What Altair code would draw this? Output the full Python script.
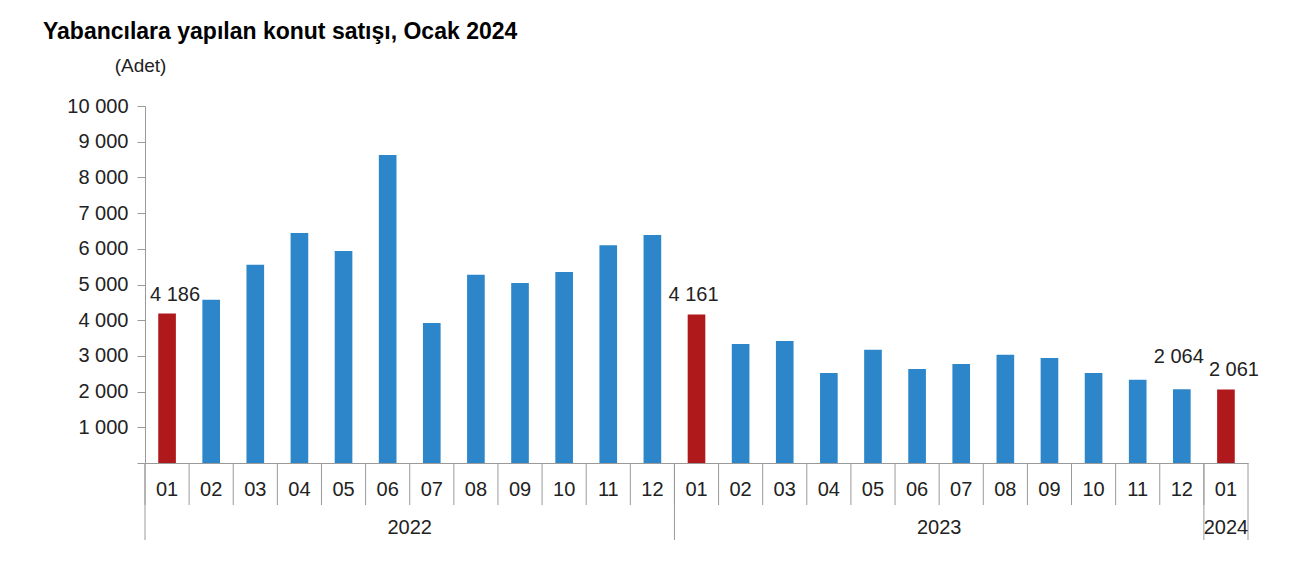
import altair as alt
import pandas as pd

# ---- data ----
years = ["2022"] * 12 + ["2023"] * 12 + ["2024"]
months = ["01", "02", "03", "04", "05", "06", "07", "08", "09", "10", "11", "12"] * 2 + ["01"]
values = [4186, 4570, 5550, 6440, 5940, 8630, 3920, 5270, 5040, 5350, 6100, 6390,
          4161, 3330, 3420, 2520, 3170, 2630, 2770, 3030, 2940, 2520, 2330, 2064,
          2061]
labeled_right = ["2022-01", "2024-01"]
labeled_left = ["2023-01"]
raised_keys = ["2023-12"]
y_ticks = [0, 1000, 2000, 3000, 4000, 5000, 6000, 7000, 8000, 9000, 10000]

TITLE = "Yabancılara yapılan konut satışı, Ocak 2024"
UNIT = "(Adet)"

BLUE = "#2c86c9"
RED = "#b0191c"
GRAY = "#9a9a9a"
TXT = "#222222"
FONT = "Liberation Sans"
FS = 20

df = pd.DataFrame({"year": years, "month": months, "value": values})
df["key"] = df["year"] + "-" + df["month"]
df["label"] = df["value"].map(lambda v: f"{v:,}".replace(",", " "))
keys = list(df["key"])

W, H = 1103, 357

xscale = alt.Scale(domain=keys, paddingInner=0, paddingOuter=0)
x_axis = alt.Axis(title=None, labelExpr="slice(datum.value, 5)", ticks=False,
                  domain=True, domainColor=GRAY, labelPadding=16, labelAngle=0,
                  labelFontSize=FS, labelColor=TXT, labelFont=FONT)
y_axis = alt.Axis(values=y_ticks,
                  labelExpr="datum.value == 0 ? '' : replace(format(datum.value, ','), ',', ' ')",
                  grid=False, tickSize=8, tickColor=GRAY, domainColor=GRAY,
                  labelPadding=9, labelFontSize=FS, labelColor=TXT, labelFont=FONT,
                  title=UNIT, titleAngle=0, titleX=-5, titleY=-41, titleAlign="center",
                  titleBaseline="middle", titleFontWeight="normal", titleFontSize=19,
                  titleColor=TXT, titleFont=FONT)

def X(**kw):
    return alt.X("key:N", scale=xscale, sort=keys, axis=x_axis, **kw)

bars = alt.Chart(df).mark_bar(width=alt.RelativeBandSize(0.4)).encode(
    x=X(),
    y=alt.Y("value:Q", scale=alt.Scale(domain=[0, 10000], nice=False), axis=y_axis),
    color=alt.condition("datum.month == '01'", alt.value(RED), alt.value(BLUE)),
)

def label_layer(sel, dx, dy):
    return alt.Chart(df[df["key"].isin(sel)]).mark_text(
        baseline="bottom", dx=dx, dy=dy, fontSize=FS, color=TXT, font=FONT).encode(
        x=X(), y=alt.Y("value:Q", axis=y_axis), text="label:N")

labels_r = label_layer(labeled_right, 8, -9)
labels_l = label_layer(labeled_left, -3, -9)
labels_up = label_layer(raised_keys, -3, -22)

# separators under the x axis
sep_short = alt.Chart(df).mark_rule(color=GRAY, strokeWidth=1).encode(
    x=X(bandPosition=0), y=alt.value(H), y2=alt.value(H + 42))
first_df = df[df["month"] == "01"]
sep_long = alt.Chart(first_df).mark_rule(color=GRAY, strokeWidth=1).encode(
    x=X(bandPosition=0), y=alt.value(H), y2=alt.value(H + 77))
last_df = df.tail(1)
sep_end = alt.Chart(last_df).mark_rule(color=GRAY, strokeWidth=1).encode(
    x=X(bandPosition=1), y=alt.value(H), y2=alt.value(H + 77))

# year labels centred under their groups
rows_even, rows_odd = [], []
for yr in dict.fromkeys(years):
    ks = [k for k, y in zip(keys, years) if y == yr]
    n = len(ks)
    if n % 2 == 0:
        rows_even.append({"key": ks[n // 2], "year": yr})
    else:
        rows_odd.append({"key": ks[n // 2], "year": yr})

year_even = alt.Chart(pd.DataFrame(rows_even)).mark_text(
    fontSize=FS, color=TXT, font=FONT, baseline="middle").encode(
    x=X(bandPosition=0), y=alt.value(H + 65), text="year:N")
year_odd = alt.Chart(pd.DataFrame(rows_odd)).mark_text(
    fontSize=FS, color=TXT, font=FONT, baseline="middle").encode(
    x=X(bandPosition=0.5), y=alt.value(H + 65), text="year:N")

chart = alt.layer(
    sep_short, sep_long, sep_end, bars, labels_r, labels_l, labels_up, year_even, year_odd
).properties(
    width=W, height=H,
    autosize=alt.AutoSizeParams(type="none"),
    padding={"left": 137, "top": 98, "right": 44, "bottom": 90},
    title=alt.TitleParams(TITLE, anchor="start", frame="group", dx=-102, offset=12,
                          fontSize=23, fontWeight="bold", font=FONT, color="black"),
).configure(font=FONT).configure_view(stroke=None, strokeWidth=0)

chart.save("out.html", embed_options={"renderer": "svg", "actions": False})
